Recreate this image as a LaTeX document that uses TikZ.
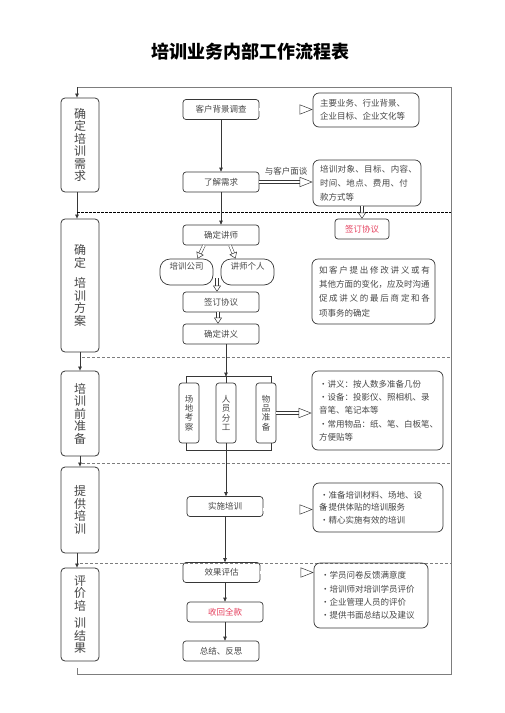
\documentclass[tikz,border=0pt]{standalone}
\usepackage{fontspec}
\setmainfont{Noto Sans CJK SC}
\usetikzlibrary{arrows.meta,positioning,calc}
\definecolor{boxLine}{RGB}{55,55,55}
\definecolor{textGrey}{RGB}{70,70,70}
\definecolor{frameGrey}{RGB}{125,125,125}
\definecolor{signRed}{RGB}{228,62,92}

% letter-spaced line for justified text
\def\spreadchars#1{\spreadloop#1\relax}
\def\spreadloop#1#2{#1\ifx\relax#2\else\hfill\expandafter\spreadloop\fi#2}
\newcommand{\spreadline}[2]{\makebox[#1]{\spreadchars{#2}}}
\newcommand{\stagetext}[2][0pt]{\raisebox{#1}{\parbox{16pt}{\centering #2}}}

\tikzset{
  stage/.style={draw=boxLine, line width=0.8pt, rounded corners=4pt, minimum width=38pt,
    inner sep=0pt, text=textGrey, font=\fontsize{12}{12.5}\selectfont},
  stepbox/.style={draw=boxLine, line width=0.7pt, rounded corners=3pt, minimum width=76pt,
    minimum height=20pt, inner sep=0pt, text=textGrey, font=\fontsize{8.5}{10}\selectfont},
  pill/.style={stepbox, rounded corners=10pt, minimum width=53pt, minimum height=26pt, text depth=13pt},
  pillar/.style={stepbox, minimum width=20pt, minimum height=60pt, align=center,
    font=\fontsize{8.5}{9.2}\selectfont},
  note/.style={draw=boxLine, line width=0.7pt, rounded corners=6pt, inner xsep=7pt, inner ysep=0pt,
    text=textGrey, align=left, font=\fontsize{8.5}{13.3}\selectfont},
  flow/.style={draw=boxLine, line width=0.7pt, -{Triangle[length=4pt,width=3.5pt]}},
  hollow/.style={draw=boxLine, line width=0.5pt, double=white, double distance=2.2pt,
    -{Triangle[open,length=13pt,width=10pt]}},
  hollowsmall/.style={hollow, -{Triangle[open,length=6pt,width=8pt]}},
  frame/.style={draw=frameGrey, line width=0.8pt},
  dashdark/.style={draw=black, line width=0.6pt, dash pattern=on 2.5pt off 1.5pt},
  dashlight/.style={draw=frameGrey, line width=0.5pt, dash pattern=on 3pt off 2pt}
}

\begin{document}
\begin{tikzpicture}[x=1pt, y=-1pt]
  \useasboundingbox (0,0) rectangle (504,713);

  \node[font=\fontsize{18}{18}\selectfont\bfseries] (title) at (250,52) {培训业务内部工作流程表};

  % stages on the left
  \node[stage, minimum height=94pt] (s1) at (80,145) {\stagetext[7pt]{确\\定\\培\\训\\需\\求}};
  \node[stage, minimum height=133pt] (s2) at (80,285.5) {\stagetext[5pt]{确\\定\\[8pt]培\\训\\方\\案}};
  \node[stage, minimum height=85pt] (s3) at (80,413.5) {\stagetext[3pt]{培\\训\\前\\准\\备}};
  \node[stage, minimum height=86pt] (s4) at (80,510) {\stagetext[1pt]{提\\供\\培\\训}};
  \node[stage, minimum height=93pt] (s5) at (80,614.5) {\stagetext[1pt]{评\\价\\培\\[5pt]训\\结\\果}};

  \draw[flow] ([xshift=-3pt]s1.south) -- ([xshift=-3pt]s2.north);
  \draw[flow] (s2) -- (s3);
  \draw[flow] (s3) -- (s4);
  \draw[flow] ([xshift=-3pt]s4.south) -- ([xshift=-3pt]s5.north);

  % outer loop
  \coordinate (loopstart) at (77,668);
  \coordinate (frameSE) at (451,674);
  \coordinate (frameNW) at (77,87);
  \draw[frame] (loopstart) |- (frameSE) |- (frameNW);
  \draw[flow] (frameNW) -- (frameNW |- s1.north);

  % section separators
  \coordinate (sep1) at (77,212);
  \coordinate (sep2) at (82,357);
  \coordinate (sep3) at (82,463);
  \coordinate (sep4) at (80,563);
  \draw[dashdark] (sep1) -- (sep1 -| frameSE);
  \draw[dashlight] (sep2) -- (sep2 -| frameSE);
  \draw[dashlight] (sep3) -- (sep3 -| frameSE);
  \draw[dashlight] (sep4) -- (sep4 -| frameSE);

  % middle column
  \node[stepbox] (bg) at (221,109.5) {客户背景调查};
  \node[stepbox] (need) at (221,182) {了解需求};
  \node[stepbox] (lecturer) at (221,235) {确定讲师};
  \node[pill] (company) at (186.5,272) {培训公司};
  \node[pill] (person) at (247.5,272) {讲师个人};
  \node[stepbox] (sign) at (221,302) {签订协议};
  \node[stepbox] (handout) at (221,334) {确定讲义};
  \node[pillar] (site) at (189,413) {场\\地\\考\\察};
  \node[pillar] (staff) at (226,413) {人\\员\\分\\工};
  \node[pillar] (goods) at (266,413) {物\\品\\准\\备};
  \node[stepbox] (run) at (225,506.5) {实施培训};
  \node[stepbox, minimum width=77pt] (eval) at (221.5,572.5) {效果评估};
  \node[stepbox, text=signRed] (pay) at (225,612) {收回全款};
  \node[stepbox] (summary) at (221,651) {总结、反思};

  % notes on the right
  \node[note, minimum width=106pt, minimum height=34pt, text width=92pt] (bgnote) at (366,110)
    {主要业务、行业背景、\\企业目标、企业文化等};
  \node[note, minimum width=108pt, minimum height=46pt, text width=94pt,
    font=\fontsize{8.5}{14}\selectfont] (neednote) at (367,183)
    {\spreadline{97pt}{培训对象、目标、内容、}\\\spreadline{88pt}{时间、地点、费用、付}\\款方式等};
  \node[stepbox, minimum width=54pt, text=signRed] (signred) at (362,229) {签订协议};
  \node[note, minimum width=123pt, minimum height=65pt, text width=109pt,
    font=\fontsize{8.5}{14.3}\selectfont] (plannote) at (373.5,291.5)
    {\spreadline{111pt}{如客户提出修改讲义或有}\\其他方面的变化，应及时沟通\\\spreadline{111pt}{促成讲义的最后商定和各}\\项事务的确定};
  \node[note, minimum width=131pt, minimum height=79pt, text width=117pt] (prepnote) at (377.5,410.5)
    {・讲义：按人数多准备几份\\・设备：投影仪、照相机、录\\音笔、笔记本等\\・常用物品：纸、笔、白板笔、\\方便贴等};
  \node[note, minimum width=130pt, minimum height=49pt, text width=116pt,
    font=\fontsize{8.5}{12.5}\selectfont] (runnote) at (378,507.5)
    {・准备培训材料、场地、设\\\makebox[0pt][l]{\kern-1pt 备}・提供体贴的培训服务\\・精心实施有效的培训};
  \node[note, minimum width=114pt, minimum height=65pt, text width=100pt] (evalnote) at (371,595.5)
    {・学员问卷反馈满意度\\・培训师对培训学员评价\\・企业管理人员的评价\\・提供书面总结以及建议};

  % main flow
  \draw[flow] (bg) -- (need);
  \draw[flow] (need) -- (lecturer);
  \draw[hollowsmall] ([xshift=-17pt]lecturer.south) -- ([xshift=11pt]company.north);
  \draw[hollowsmall] ([xshift=9pt]lecturer.south) -- ([xshift=-12pt]person.north);
  \coordinate (split) at ($(company.east)!.5!(person.west)$);
  \draw[hollowsmall] ([yshift=-6pt]split) -- (split |- sign.north);
  \draw[hollowsmall] ([xshift=-3pt]sign.south) -- ([xshift=-3pt]handout.north);

  % bracket round the three tasks
  \coordinate (brtop) at ([yshift=6pt]staff.north);
  \coordinate (brbot) at ([yshift=-7pt]staff.south);
  \draw[flow] (handout.south -| brtop) -- (brtop);
  \draw[boxLine, line width=0.7pt] ([xshift=-3pt]site.north) |- (brtop) -| ([xshift=5pt]goods.north);
  \draw[boxLine, line width=0.7pt] ([xshift=-3pt]site.south) |- (brbot) -| ([xshift=5pt]goods.south);
  \draw[boxLine, line width=0.7pt] (brtop) -- (staff.north);
  \draw[boxLine, line width=0.7pt] (staff.south) -- (brbot);
  \draw[flow] (brbot) -- (run.north -| brbot);

  \draw[flow] (run.south) -- (run.south |- eval.north);
  \draw[flow] (eval.south -| pay) -- (pay);
  \draw[flow] (pay) -- (pay.south |- summary.north);

  % hollow arrows to the notes
  \draw[hollow] (bg.east) -- (bg.east -| bgnote.west);
  \draw[hollow] (need.east) -- node[midway, above=3pt, font=\fontsize{8.5}{10}\selectfont, text=textGrey] (talk) {与客户面谈} (need.east -| neednote.west);
  \draw[hollowsmall] (neednote.south -| signred) -- (signred.north);
  \draw[hollow] (goods.east) -- (goods.east -| prepnote.west);
  \draw[hollow] ([yshift=-3pt]run.east) -- ([yshift=-3pt]run.east -| runnote.west);
  \draw[hollow] (eval.east) -- (eval.east -| evalnote.west);
\end{tikzpicture}
\end{document}
